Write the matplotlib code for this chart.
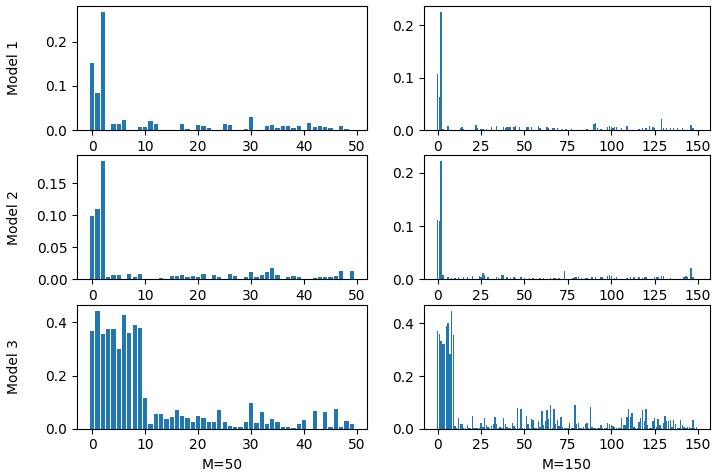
import matplotlib
matplotlib.use("Agg")
import matplotlib.pyplot as plt
from matplotlib.ticker import MultipleLocator
import numpy as np

# ---- Data ----
m1_50 = [0.152, 0.083, 0.267, 0.000, 0.013, 0.013, 0.023, 0.000, 0.000, 0.006,
         0.006, 0.020, 0.013, 0.000, 0.000, 0.001, 0.000, 0.013, 0.003, 0.000,
         0.012, 0.010, 0.004, 0.000, 0.000, 0.014, 0.011, 0.000, 0.001, 0.002,
         0.030, 0.000, 0.000, 0.009, 0.011, 0.005, 0.010, 0.010, 0.005, 0.008,
         0.000, 0.015, 0.006, 0.009, 0.006, 0.004, 0.000, 0.008, 0.002, 0.000]

m2_50 = [0.099, 0.110, 0.184, 0.003, 0.006, 0.006, 0.000, 0.009, 0.003, 0.008,
         0.000, 0.000, 0.000, 0.002, 0.000, 0.005, 0.005, 0.006, 0.003, 0.005,
         0.003, 0.008, 0.000, 0.006, 0.003, 0.000, 0.009, 0.005, 0.000, 0.004,
         0.011, 0.004, 0.007, 0.012, 0.018, 0.006, 0.000, 0.003, 0.005, 0.003,
         0.000, 0.000, 0.002, 0.004, 0.004, 0.003, 0.005, 0.013, 0.000, 0.013]

m3_50 = [0.367, 0.444, 0.357, 0.375, 0.375, 0.299, 0.429, 0.361, 0.389, 0.380,
         0.115, 0.016, 0.056, 0.054, 0.037, 0.045, 0.071, 0.046, 0.039, 0.026,
         0.047, 0.042, 0.027, 0.026, 0.069, 0.026, 0.011, 0.005, 0.007, 0.027,
         0.095, 0.021, 0.064, 0.017, 0.036, 0.024, 0.006, 0.006, 0.002, 0.016,
         0.031, 0.000, 0.066, 0.000, 0.061, 0.006, 0.074, 0.006, 0.029, 0.019]

m1_150 = [0.108, 0.063, 0.226, 0.001, 0.000, 0.000, 0.008, 0.000, 0.000, 0.000,
          0.000, 0.000, 0.000, 0.0045, 0.006, 0.002, 0.000, 0.000, 0.000, 0.000,
          0.000, 0.000, 0.010, 0.0045, 0.000, 0.002, 0.001, 0.000, 0.001, 0.000,
          0.000, 0.005, 0.000, 0.000, 0.007, 0.000, 0.000, 0.000, 0.005, 0.0045,
          0.005, 0.005, 0.005, 0.000, 0.006, 0.007, 0.000, 0.006, 0.000, 0.000,
          0.000, 0.0065, 0.005, 0.000, 0.005, 0.000, 0.000, 0.000, 0.008, 0.0045,
          0.000, 0.000, 0.000, 0.0065, 0.0045, 0.000, 0.004, 0.003, 0.000, 0.0045,
          0.000, 0.000, 0.002, 0.000, 0.001, 0.000, 0.000, 0.001, 0.000, 0.000,
          0.000, 0.000, 0.000, 0.000, 0.000, 0.000, 0.001, 0.000, 0.000, 0.000,
          0.011, 0.013, 0.003, 0.000, 0.001, 0.000, 0.000, 0.000, 0.006, 0.007,
          0.005, 0.0045, 0.005, 0.005, 0.000, 0.000, 0.003, 0.000, 0.000, 0.008,
          0.000, 0.000, 0.000, 0.000, 0.000, 0.000, 0.002, 0.000, 0.004, 0.000,
          0.0045, 0.000, 0.008, 0.000, 0.006, 0.0045, 0.000, 0.000, 0.000, 0.022,
          0.004, 0.000, 0.003, 0.000, 0.004, 0.000, 0.003, 0.000, 0.004, 0.000,
          0.000, 0.003, 0.000, 0.000, 0.000, 0.000, 0.009, 0.004, 0.000, 0.000]

m2_150 = [0.111, 0.110, 0.222, 0.008, 0.001, 0.000, 0.005, 0.000, 0.003, 0.000,
          0.003, 0.000, 0.004, 0.000, 0.000, 0.005, 0.000, 0.004, 0.000, 0.000,
          0.007, 0.000, 0.000, 0.000, 0.007, 0.004, 0.011, 0.008, 0.000, 0.004,
          0.000, 0.000, 0.000, 0.000, 0.004, 0.003, 0.000, 0.008, 0.009, 0.000,
          0.004, 0.000, 0.003, 0.000, 0.004, 0.003, 0.000, 0.000, 0.004, 0.000,
          0.003, 0.000, 0.000, 0.003, 0.000, 0.003, 0.000, 0.000, 0.000, 0.003,
          0.000, 0.002, 0.000, 0.000, 0.000, 0.002, 0.000, 0.003, 0.003, 0.000,
          0.003, 0.000, 0.000, 0.016, 0.000, 0.000, 0.000, 0.000, 0.003, 0.004,
          0.005, 0.004, 0.000, 0.003, 0.000, 0.003, 0.003, 0.000, 0.000, 0.004,
          0.000, 0.004, 0.000, 0.000, 0.005, 0.004, 0.000, 0.000, 0.006, 0.008,
          0.006, 0.000, 0.003, 0.005, 0.000, 0.000, 0.000, 0.000, 0.000, 0.003,
          0.000, 0.004, 0.000, 0.004, 0.000, 0.000, 0.004, 0.000, 0.003, 0.004,
          0.004, 0.000, 0.000, 0.000, 0.000, 0.004, 0.004, 0.004, 0.000, 0.006,
          0.006, 0.000, 0.000, 0.000, 0.003, 0.000, 0.000, 0.000, 0.000, 0.000,
          0.000, 0.000, 0.005, 0.006, 0.004, 0.000, 0.021, 0.004, 0.000, 0.000]

m3_150 = [0.372, 0.360, 0.335, 0.322, 0.322, 0.390, 0.400, 0.285, 0.449, 0.358,
          0.009, 0.004, 0.039, 0.019, 0.019, 0.003, 0.002, 0.013, 0.001, 0.003,
          0.047, 0.002, 0.001, 0.004, 0.002, 0.022, 0.005, 0.042, 0.013, 0.006,
          0.003, 0.012, 0.018, 0.043, 0.018, 0.004, 0.006, 0.001, 0.040, 0.019,
          0.006, 0.003, 0.001, 0.021, 0.010, 0.002, 0.078, 0.002, 0.073, 0.003,
          0.001, 0.047, 0.018, 0.003, 0.037, 0.034, 0.004, 0.002, 0.029, 0.006,
          0.067, 0.013, 0.028, 0.071, 0.038, 0.092, 0.002, 0.076, 0.019, 0.033,
          0.010, 0.044, 0.008, 0.003, 0.001, 0.002, 0.020, 0.003, 0.004, 0.090,
          0.016, 0.020, 0.003, 0.001, 0.005, 0.016, 0.023, 0.002, 0.082, 0.005,
          0.002, 0.001, 0.003, 0.002, 0.013, 0.002, 0.001, 0.003, 0.022, 0.018,
          0.014, 0.010, 0.008, 0.003, 0.002, 0.004, 0.040, 0.013, 0.015, 0.044,
          0.073, 0.043, 0.058, 0.005, 0.002, 0.003, 0.025, 0.040, 0.070, 0.030,
          0.073, 0.013, 0.003, 0.002, 0.029, 0.040, 0.008, 0.037, 0.013, 0.004,
          0.022, 0.050, 0.031, 0.029, 0.033, 0.006, 0.034, 0.018, 0.004, 0.002,
          0.033, 0.013, 0.008, 0.002, 0.005, 0.005, 0.002, 0.033, 0.002, 0.005]

row_labels = ["Model 1", "Model 2", "Model 3"]
col_labels = ["M=50", "M=150"]
grid = [[m1_50, m1_150], [m2_50, m2_150], [m3_50, m3_150]]
x_steps = [10, 25]

# ---- Figure ----
fig = plt.figure(figsize=(7.21, 4.73), dpi=100)
lefts = [77 / 721, 424 / 721]
widths = [290 / 721, 286 / 721]
bottoms = [1 - 130 / 473, 1 - 279.3 / 473, 1 - 428.7 / 473]
height = 124 / 473

axes = np.empty((3, 2), dtype=object)
for r in range(3):
    for c in range(2):
        ax = fig.add_axes([lefts[c], bottoms[r], widths[c], height])
        vals = grid[r][c]
        ax.bar(np.arange(len(vals)), vals, color="#1f77b4")
        ax.xaxis.set_major_locator(MultipleLocator(x_steps[c]))
        axes[r, c] = ax
    axes[r, 0].set_ylabel(row_labels[r])
    axes[r, 0].yaxis.set_label_coords(-0.194, 0.5)

axes[2, 0].set_xlabel(col_labels[0])
axes[2, 1].set_xlabel(col_labels[1])

fig.savefig("out.png", dpi=100)
